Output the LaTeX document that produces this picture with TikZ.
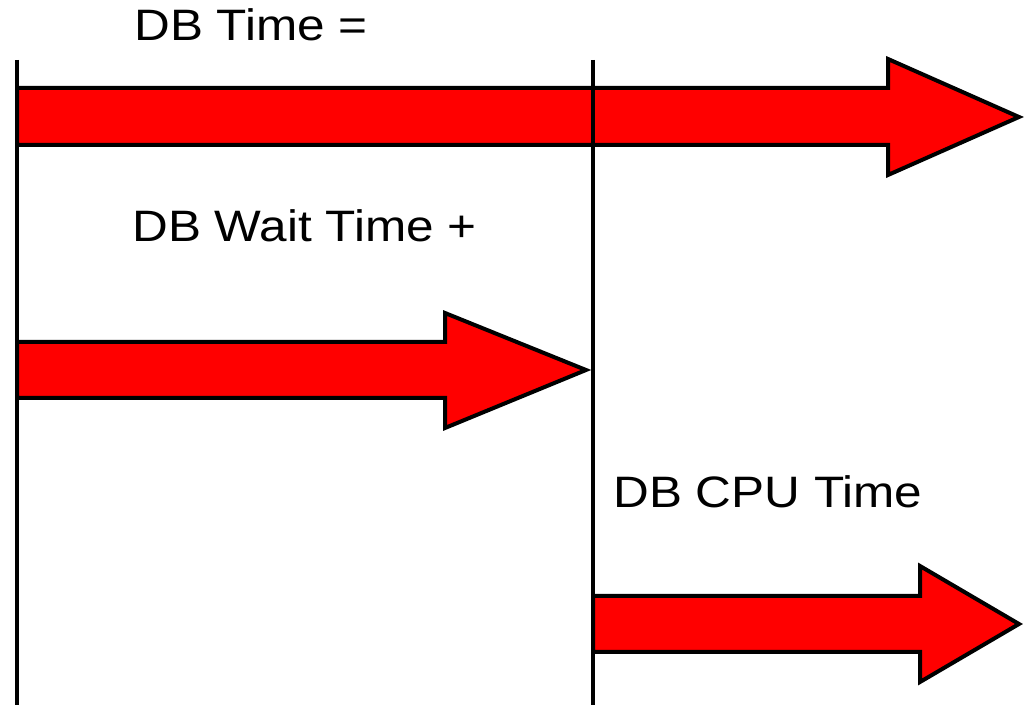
\documentclass[tikz,border=0pt]{standalone}
\usepackage{fontspec}
\setmainfont{Liberation Sans}

\begin{document}
\begin{tikzpicture}[x=0.5pt,y=-0.5pt]
\tikzstyle{bar}=[draw,fill=red,line width=2pt,line join=miter]
\tikzstyle{mark line}=[draw,line width=2pt]
\tikzstyle{lbl}=[anchor=base west,inner sep=0pt,xscale=1.125,transform shape,font=\fontsize{22}{26}\selectfont]
\useasboundingbox (0,0) rectangle (1025,705);

% DB Time
\node[lbl] (dbtime) at (134,41) {DB Time =};
\filldraw[bar] (17,88) -- (888,88) -- (888,59) -- (1019,117) -- (888,175) -- (888,145) -- (17,145) -- cycle;

% DB Wait Time
\node[lbl] (dbwait) at (132,242) {DB Wait Time +};
\filldraw[bar] (17,342) -- (445,342) -- (445,313) -- (586,370) -- (445,428) -- (445,398) -- (17,398) -- cycle;

% DB CPU Time
\node[lbl] (dbcpu) at (613,508) {DB CPU Time};
\filldraw[bar] (593,596) -- (920,596) -- (920,566) -- (1019,624) -- (920,682) -- (920,652) -- (593,652) -- cycle;

% start and end marks
\coordinate (starttop) at (17,60);
\coordinate (startbot) at (17,705);
\coordinate (endtop) at (593,60);
\coordinate (endbot) at (593,705);
\draw[mark line] (starttop) -- (startbot);
\draw[mark line] (endtop) -- (endbot);

\end{tikzpicture}
\end{document}
